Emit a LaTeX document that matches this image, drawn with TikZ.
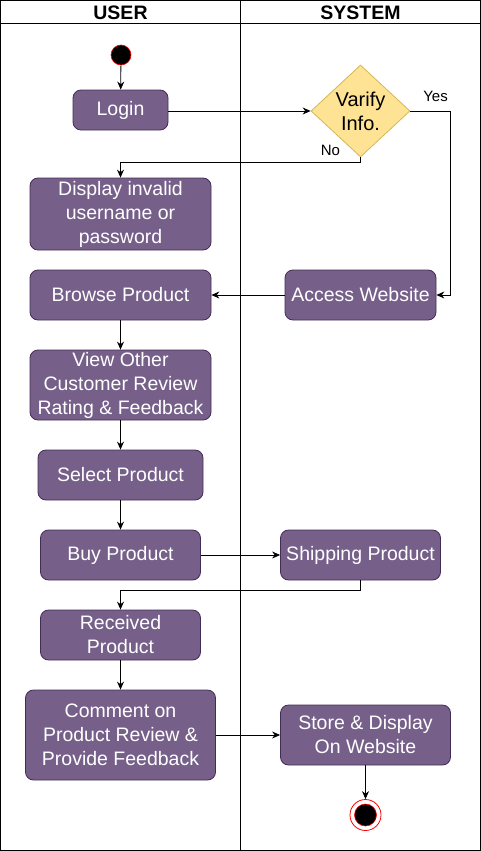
\documentclass[tikz,border=0pt]{standalone}
\usepackage{fontspec}
\setmainfont{Liberation Sans}
\usetikzlibrary{shapes.geometric,arrows.meta}
\definecolor{boxfill}{HTML}{76608A}
\definecolor{boxline}{HTML}{432D57}
\definecolor{decfill}{HTML}{FFE394}
\definecolor{decline}{HTML}{D6B656}
\tikzset{
  act/.style={draw=boxline, fill=boxfill, rounded corners=8pt, text=white, align=center,
    font=\fontsize{19.5}{24}\selectfont, inner sep=0pt, line width=0.8pt},
  arr/.style={-{Stealth[length=8pt,width=7pt]}, line width=0.8pt},
  lane/.style={line width=0.8pt},
  hdr/.style={font=\bfseries\fontsize{19.5}{22}\selectfont},
  lbl/.style={font=\fontsize{15}{17}\selectfont}
}
\begin{document}
\begin{tikzpicture}[x=1pt,y=-1pt]
\useasboundingbox (0,0) rectangle (481,851);
% swimlanes
\draw[lane] (0.5,0.5) rectangle (480.5,850.5);
\draw[lane] (0.5,23) -- (480.5,23);
\draw[lane] (240.5,0.5) -- (240.5,850.5);
\node[hdr] (huser) at (120.5,12.5) {USER};
\node[hdr] (hsys) at (360.5,12.5) {SYSTEM};
% start
\node[circle, fill=black, draw=red, minimum size=20pt, inner sep=0pt, line width=0.6pt] (start) at (121,55) {};
% activities
\node[act, minimum width=95pt, minimum height=40pt] (login) at (120.5,110) {Login};
\node[diamond, draw=decline, fill=decfill, minimum width=99pt, minimum height=92pt, inner sep=0pt, aspect=1.07,
  font=\fontsize{20}{24}\selectfont, align=center, line width=0.8pt] (verify) at (360.5,111) {Varify\\Info.};
\node[act, minimum width=181pt, minimum height=72pt] (invalid) at (120.5,214) {Display invalid\\username or\\password};
\node[act, minimum width=181pt, minimum height=50pt] (browse) at (120.5,295) {Browse Product};
\node[act, minimum width=151pt, minimum height=50pt] (access) at (360.5,295) {Access Website};
\node[act, minimum width=181pt, minimum height=70pt] (view) at (120.5,385) {View Other\\Customer Review\\Rating \& Feedback};
\node[act, minimum width=165pt, minimum height=50pt] (select) at (120.5,475) {Select Product};
\node[act, minimum width=160pt, minimum height=50pt] (buy) at (120.5,555) {Buy Product};
\node[act, minimum width=160pt, minimum height=50pt] (ship) at (360.5,555) {Shipping Product};
\node[act, minimum width=160pt, minimum height=50pt] (recv) at (120.5,635) {Received\\Product};
\node[act, minimum width=190pt, minimum height=90pt] (comment) at (120.5,735) {Comment on\\Product Review \&\\Provide Feedback};
\node[act, minimum width=170pt, minimum height=60pt] (store) at (365.5,735) {Store \& Display\\On Website};
% end
\node[circle, draw=red, fill=white, minimum size=31pt, inner sep=0pt, line width=0.8pt] (endo) at (365.5,815) {};
\node[circle, fill=black, draw=red, minimum size=22pt, inner sep=0pt, line width=0.6pt] (endi) at (365.5,815) {};
% connectors
\draw[arr] (start) -- (login);
\draw[arr] (login.east |- verify) -- (verify);
\draw[arr] (verify.east) -- (450.5,111) |- (access.east);
\node[lbl] (yes) at (435.5,96) {Yes};
\draw[arr] (verify.south) |- (120.5,162) -- (invalid.north);
\node[lbl] (no) at (330.5,150) {No};
\draw[arr] (access) -- (browse);
\draw[arr] (browse) -- (view);
\draw[arr] (view) -- (select);
\draw[arr] (select) -- (buy);
\draw[arr] (buy) -- (ship);
\draw[arr] (ship.south) |- (120.5,590) -- (recv.north);
\draw[arr] (recv) -- (comment);
\draw[arr] (comment.east |- store) -- (store);
\draw[arr] (store) -- (endo);
\end{tikzpicture}
\end{document}
